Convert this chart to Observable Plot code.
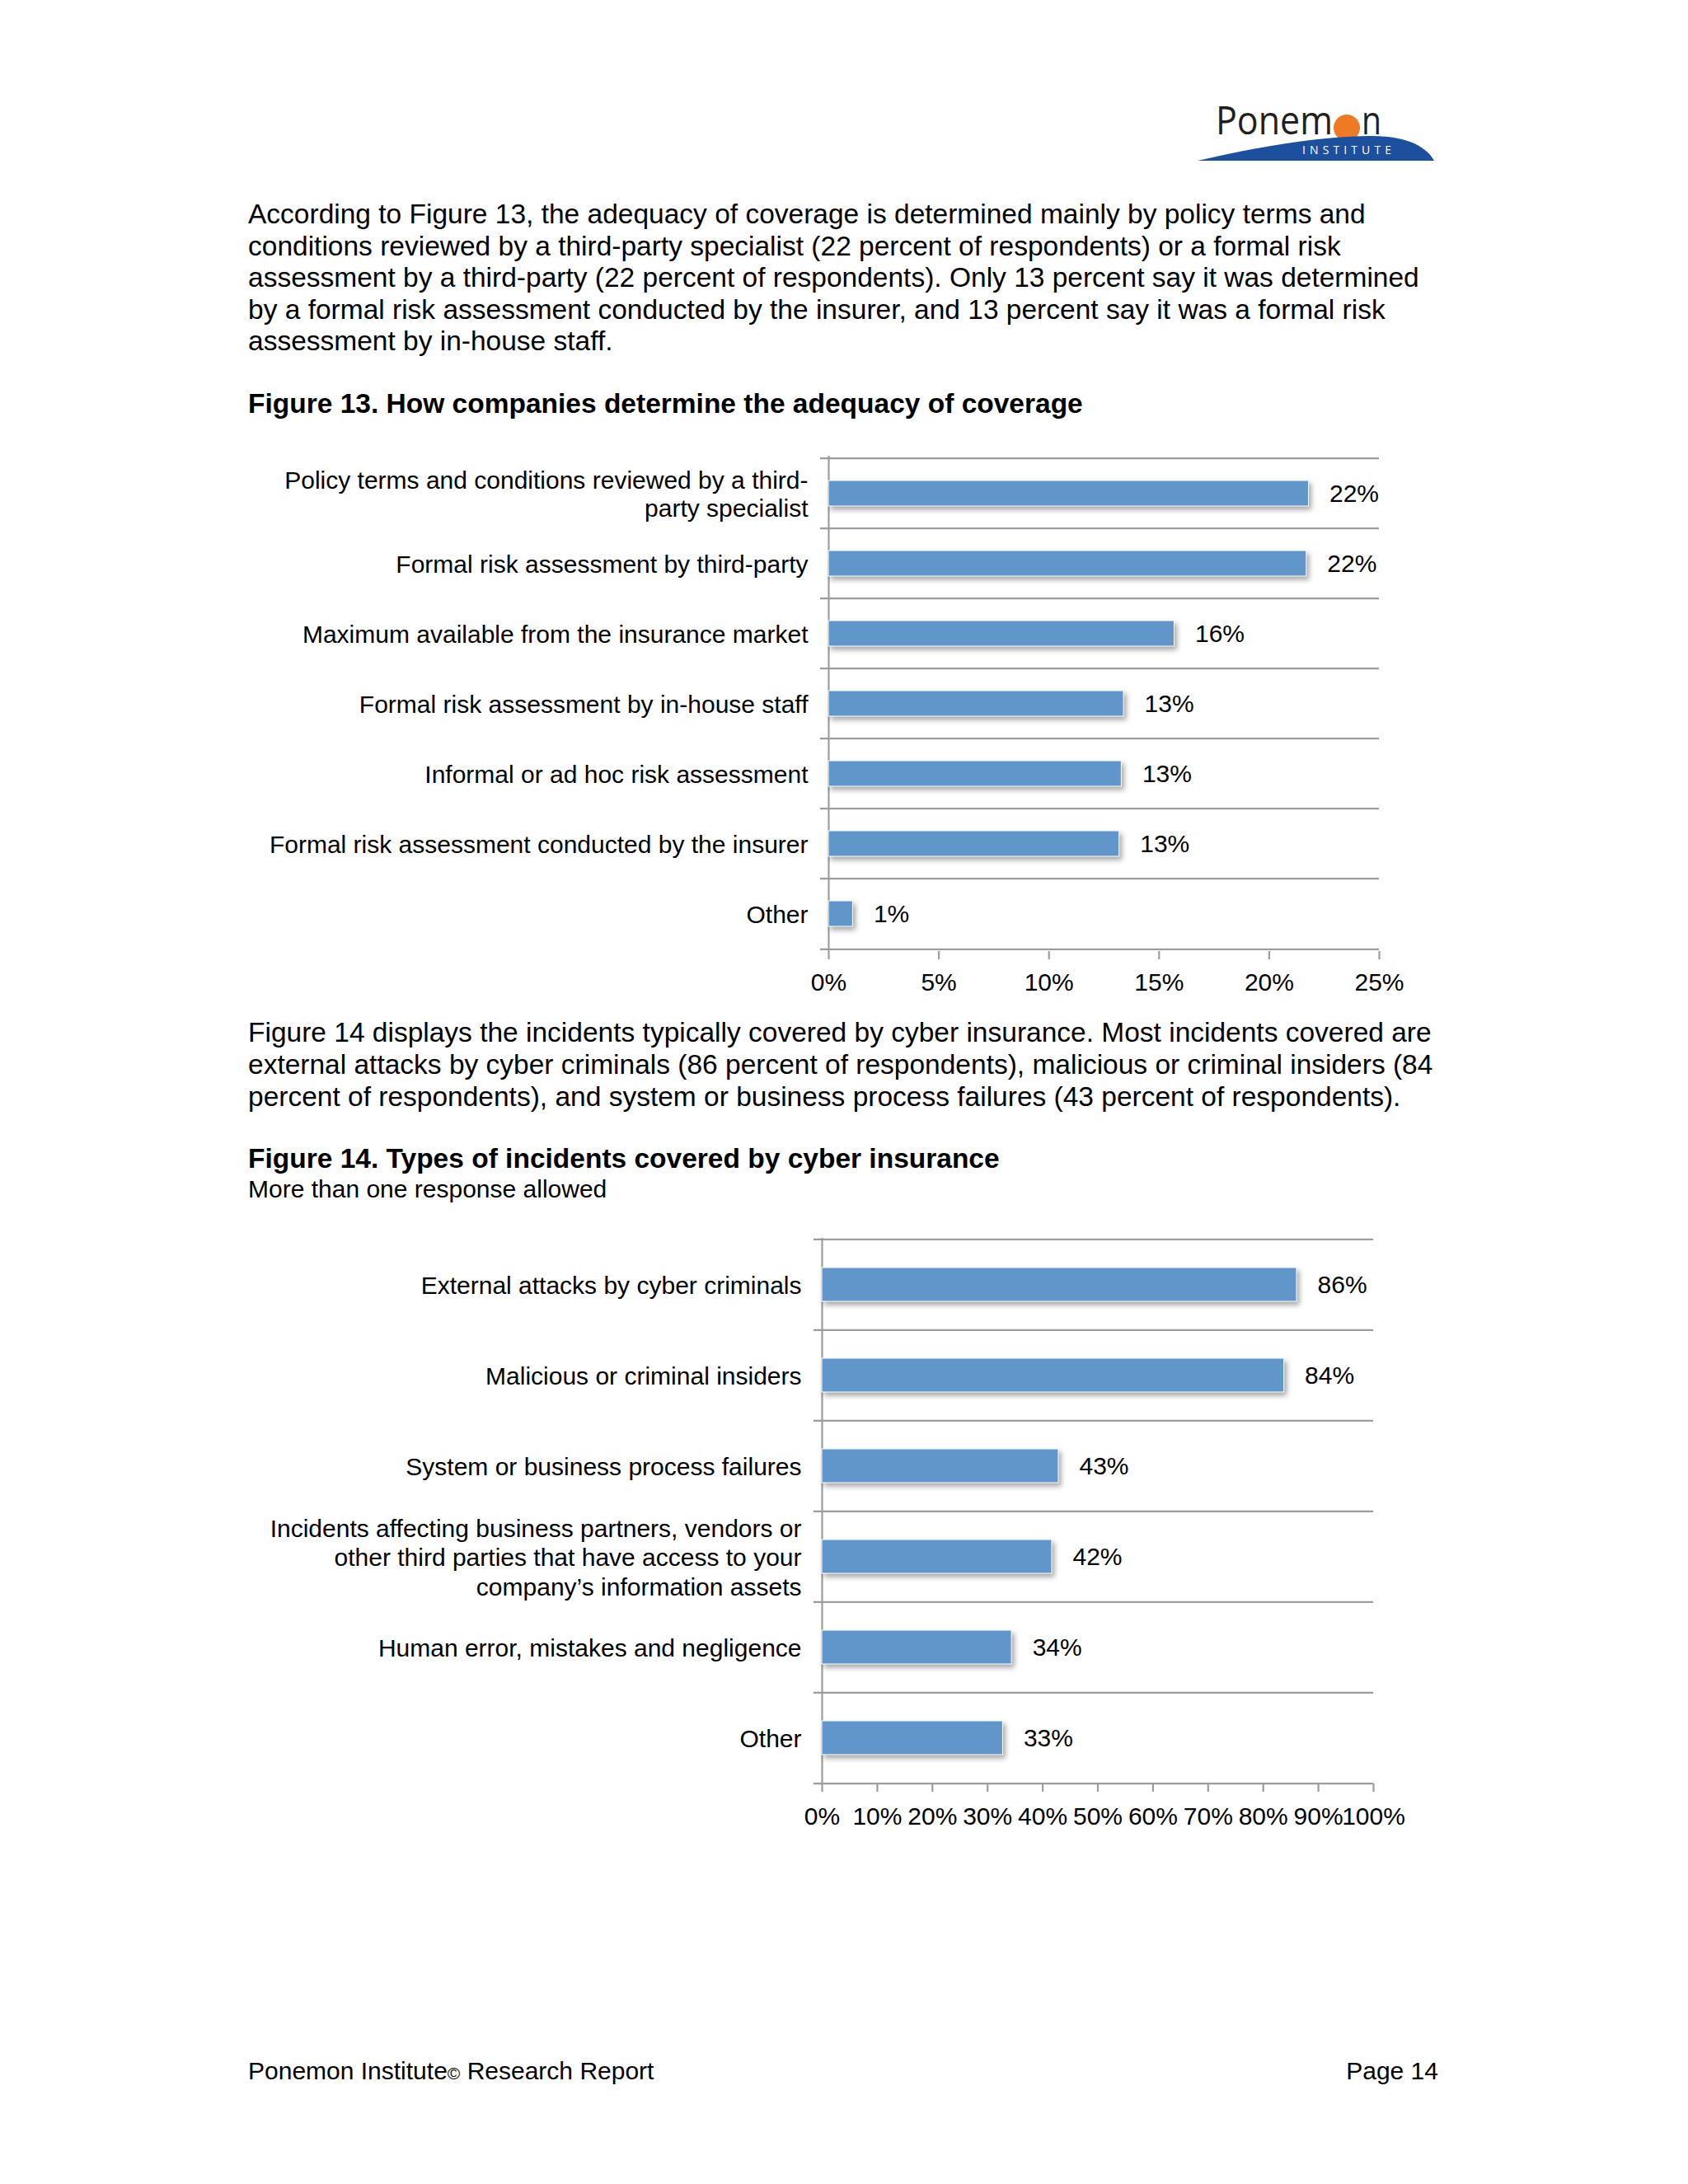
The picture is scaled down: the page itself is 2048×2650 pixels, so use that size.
<!DOCTYPE html>
<html>
<head>
<meta charset="utf-8">
<script src="https://cdn.jsdelivr.net/npm/d3@7"></script>
<script src="https://cdn.jsdelivr.net/npm/@observablehq/plot@0.6"></script>
<style>
html, body { margin: 0; padding: 0; background: #ffffff; }
body { width: 2048px; height: 2650px; position: relative; overflow: hidden;
       font-family: "Liberation Sans", Arial, Helvetica, sans-serif; color: #000; }
.abs { position: absolute; white-space: nowrap; }
.para { font-size: 33.5px; }
.title { font-size: 33.5px; font-weight: bold; line-height: 40px; }
.small { font-size: 30px; line-height: 36px; }
svg g[aria-label="bar"] rect { filter: drop-shadow(3px 4px 3px rgba(0,0,0,0.35)); }
</style>
</head>
<body>

<svg class="abs" style="left:1440px;top:100px" width="320" height="110" viewBox="0 0 320 110">
  <circle cx="194" cy="55" r="16" fill="#ee7b24"></circle>
  <path d="M 13 95 C 80 80, 150 66, 220 65 C 270 64, 292 80, 300 95 Z" fill="#1c4f9d"></path>
  <text x="35" y="63" font-family="'Open Sans', 'Noto Sans', sans-serif" font-size="48" fill="#231f20" textLength="142" lengthAdjust="spacingAndGlyphs">Ponem</text>
  <text x="212" y="63" font-family="'Open Sans', 'Noto Sans', sans-serif" font-size="48" fill="#231f20" textLength="24" lengthAdjust="spacingAndGlyphs">n</text>
  <text x="140" y="87" font-family="'Open Sans', 'Noto Sans', sans-serif" font-size="14" fill="#ffffff" textLength="108" lengthAdjust="spacing">INSTITUTE</text>
</svg>

<div class="abs para" style="left:301px;top:241px;line-height:38.5px">
According to Figure 13, the adequacy of coverage is determined mainly by policy terms and<br>
conditions reviewed by a third-party specialist (22 percent of respondents) or a formal risk<br>
assessment by a third-party (22 percent of respondents). Only 13 percent say it was determined<br>
by a formal risk assessment conducted by the insurer, and 13 percent say it was a formal risk<br>
assessment by in-house staff.
</div>

<div class="abs title" style="left:301px;top:470px">Figure 13. How companies determine the adequacy of coverage</div>

<div id="fig13" class="abs" style="left:300px;top:530px"></div>

<div class="abs para" style="left:301px;top:1232.5px;line-height:39px">
Figure 14 displays the incidents typically covered by cyber insurance. Most incidents covered are<br>
external attacks by cyber criminals (86 percent of respondents), malicious or criminal insiders (84<br>
percent of respondents), and system or business process failures (43 percent of respondents).
</div>

<div class="abs title" style="left:301px;top:1386px">Figure 14. Types of incidents covered by cyber insurance</div>
<div class="abs small" style="left:301px;top:1425px">More than one response allowed</div>

<div id="fig14" class="abs" style="left:300px;top:1480px"></div>

<div class="abs small" style="left:301px;top:2495px">Ponemon Institute<span style="font-size:21px">©</span> Research Report</div>
<div class="abs small" style="right:303px;top:2495px">Page 14</div>

<script>
// ---- Figure 13 data ----
const fig13Categories = [
  "Policy terms and conditions reviewed by a third-\nparty specialist",
  "Formal risk assessment by third-party",
  "Maximum available from the insurance market",
  "Formal risk assessment by in-house staff",
  "Informal or ad hoc risk assessment",
  "Formal risk assessment conducted by the insurer",
  "Other"
];
const fig13Values = [21.8, 21.7, 15.7, 13.4, 13.3, 13.2, 1.1];
const fig13Domain = [0, 25];
const fig13TickCount = 5;

// ---- Figure 14 data ----
const fig14Categories = [
  "External attacks by cyber criminals",
  "Malicious or criminal insiders",
  "System or business process failures",
  "Incidents affecting business partners, vendors or\nother third parties that have access to your\ncompany’s information assets",
  "Human error, mistakes and negligence",
  "Other"
];
const fig14Values = [86.1, 83.8, 42.9, 41.7, 34.4, 32.8];
const fig14Domain = [0, 100];
const fig14TickCount = 10;

const BAR = "#6196ca";
const GRID = "#9d9d9d";
const FONT = "'Liberation Sans', Arial, Helvetica, sans-serif";

function barChart({categories, values, domain, tickCount, marginLeft, marginTop, plotW, plotH, lineHeight, tickPadding}) {
  const data = categories.map((label, i) => ({label, value: values[i]}));
  const n = categories.length;
  const step = plotH / n;
  const marginRight = 50, marginBottom = 70;
  return Plot.plot({
    width: marginLeft + plotW + marginRight,
    height: marginTop + plotH + marginBottom,
    marginLeft, marginRight, marginTop, marginBottom,
    style: {fontFamily: FONT, fontSize: "30px", color: "#000", background: "transparent", overflow: "visible"},
    x: {domain, label: null},
    y: {domain: categories, paddingInner: 0.63, paddingOuter: 0.315, axis: null, label: null},
    marks: [
      Plot.ruleY(categories, {y: d => d, dy: -step / 2, stroke: GRID, strokeWidth: 2.2, insetLeft: -10}),
      Plot.ruleY([categories[n - 1]], {y: d => d, dy: step / 2, stroke: GRID, strokeWidth: 2.2, insetLeft: -10}),
      Plot.ruleX([domain[0]], {stroke: GRID, strokeWidth: 2.2}),
      Plot.axisX({ticks: tickCount, tickSize: 10, tickPadding, tickFormat: d => d + "%",
                  stroke: GRID, strokeWidth: 2.2, fill: "#000", fontSize: 30, label: null}),
      Plot.barX(data, {x: "value", y: "label", fill: BAR, stroke: "#ffffff", strokeWidth: 1}),
      Plot.text(data, {x: "value", y: "label", text: d => Math.round(d.value) + "%", dx: 25,
                       textAnchor: "start", fontSize: 30, fill: "#000"}),
      Plot.text(data, {y: "label", text: "label", frameAnchor: "left", textAnchor: "end", dx: -25,
                       fontSize: 30, lineHeight, fill: "#000"})
    ]
  });
}

document.getElementById("fig13").append(barChart({
  categories: fig13Categories, values: fig13Values, domain: fig13Domain, tickCount: fig13TickCount,
  marginLeft: 705, marginTop: 23, plotW: 668, plotH: 601, lineHeight: 1.12, tickPadding: 16
}));

document.getElementById("fig14").append(barChart({
  categories: fig14Categories, values: fig14Values, domain: fig14Domain, tickCount: fig14TickCount,
  marginLeft: 697, marginTop: 22, plotW: 669, plotH: 662, lineHeight: 1.18, tickPadding: 18
}));
</script>
</body>
</html>
